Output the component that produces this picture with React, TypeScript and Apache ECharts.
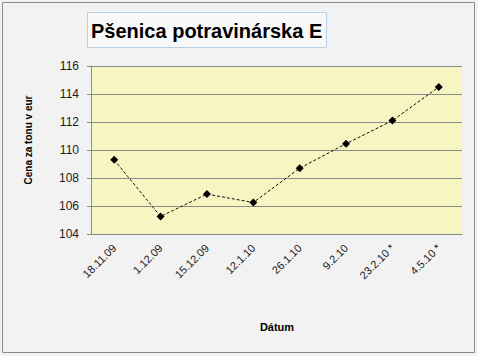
import React, { useEffect, useRef } from "react";
import * as echarts from "echarts";

const categories = ["18.11.09", "1.12.09", "15.12.09", "12.1.10", "26.1.10", "9.2.10", "23.2.10 *", "4.5.10 *"];
const prices = [109.3, 105.25, 106.85, 106.25, 108.7, 110.45, 112.1, 114.5];
const yTicks = { min: 104, max: 116, interval: 2 };
const titleText = "Pšenica potravinárska E";
const yTitle = "Cena za tonu v eur";
const xTitle = "Dátum";

export default function App() {
  const ref = useRef<HTMLDivElement>(null);
  useEffect(() => {
    if (!ref.current) return;
    const chart = echarts.init(ref.current, null, { renderer: "svg" });
    const font = "Liberation Sans, Arial, sans-serif";
    chart.setOption({
      animation: false,
      backgroundColor: "#f2f2f2",
      grid: {
        left: 91,
        right: 16,
        top: 66,
        bottom: 122,
        show: true,
        backgroundColor: "#f7f5c2",
        borderColor: "transparent",
        borderWidth: 0,
      },
      xAxis: {
        type: "category",
        data: categories,
        boundaryGap: true,
        axisLine: { show: true, lineStyle: { color: "#8a8a8a", width: 1 } },
        axisTick: { show: false },
        axisLabel: {
          rotate: 45,
          margin: 12,
          fontSize: 11,
          fontFamily: font,
          color: "#1a1a1a",
        },
      },
      yAxis: {
        type: "value",
        min: yTicks.min,
        max: yTicks.max,
        interval: yTicks.interval,
        axisLine: { show: true, lineStyle: { color: "#8a8a8a", width: 1 } },
        axisTick: { show: true, length: 4, inside: false, lineStyle: { color: "#8a8a8a" } },
        splitLine: { show: true, lineStyle: { color: "#8c8c8c", width: 1 } },
        axisLabel: {
          margin: 12,
          fontSize: 12,
          fontFamily: font,
          color: "#1a1a1a",
        },
      },
      graphic: [
        {
          type: "rect",
          shape: { x: 2.5, y: 2.5, width: 472, height: 350 },
          style: { fill: "none", stroke: "#8a8a8a", lineWidth: 1 },
          silent: true,
        },
        {
          type: "rect",
          shape: { x: 87.5, y: 12.5, width: 239, height: 35 },
          style: { fill: "#f8f8f8", stroke: "#b8cde6", lineWidth: 1 },
          silent: true,
        },
        {
          type: "text",
          x: 91,
          y: 31,
          style: {
            text: titleText,
            fontSize: 20,
            fontFamily: font,
            fontWeight: "bold",
            fill: "#000",
            verticalAlign: "middle",
          },
        },
        {
          type: "text",
          x: 28,
          y: 140,
          rotation: Math.PI / 2,
          style: {
            text: yTitle,
            fontSize: 10,
            fontFamily: font,
            fontWeight: "bold",
            fill: "#000",
            align: "center",
            verticalAlign: "middle",
          },
        },
        {
          type: "text",
          x: 277,
          y: 327,
          style: {
            text: xTitle,
            fontSize: 11,
            fontFamily: font,
            fontWeight: "bold",
            fill: "#000",
            align: "center",
            verticalAlign: "middle",
          },
        },
      ],
      series: [
        {
          type: "line",
          data: prices,
          symbol: "diamond",
          symbolSize: 8,
          itemStyle: { color: "#000" },
          lineStyle: { color: "#111", width: 1, type: [3, 2] },
        },
      ],
    });
    return () => chart.dispose();
  }, []);
  return (
    <div
      ref={ref}
      style={{ position: "absolute", left: 0, top: 0, width: 478, height: 356 }}
    />
  );
}
